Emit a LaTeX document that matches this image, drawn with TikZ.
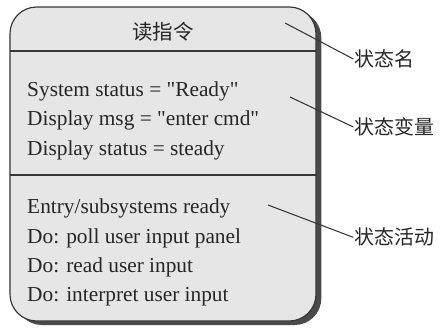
\documentclass[tikz,border=0pt]{standalone}
\usepackage{fontspec}
\setmainfont{Liberation Serif}
\newfontfamily\cjk{Noto Sans CJK SC}
\definecolor{boxfill}{HTML}{E6E6E6}
\definecolor{boxline}{HTML}{363636}
\definecolor{shadowgray}{HTML}{4A4A4A}

\begin{document}
\begin{tikzpicture}[
		txt/.style={anchor=base west, inner sep=0pt, font=\fontsize{18.2}{20}\selectfont, text=black!85},
		tag/.style={anchor=west, inner sep=1pt, font=\cjk\fontsize{17}{20}\selectfont, text=black!85},
		pointer/.style={draw=boxline, line width=0.9pt}]
	\useasboundingbox (0,0) rectangle (13.32,9.84);
	% state box with its shadow
	\fill [shadowgray, rounded corners=0.8cm] (0.46,0.09) rectangle (9.64,9.51);
	\filldraw [fill=boxfill, draw=boxline, line width=1pt, rounded corners=0.8cm] (0.3,0.21) rectangle (9.48,9.63);
	\draw [boxline, line width=1pt] (0.3,8.31) -- (9.48,8.31);
	\draw [boxline, line width=1pt] (0.3,4.59) -- (9.48,4.59);
	\node [font=\cjk\fontsize{17.5}{20}\selectfont, text=black!85] (name) at (4.89,8.9) {读指令};
	% state variables
	\node [txt] (var1) at (0.81,6.93) {System status = \textquotedbl Ready\textquotedbl};
	\node [txt] (var2) at (0.81,6.06) {Display msg = \textquotedbl enter cmd\textquotedbl};
	\node [txt] (var3) at (0.81,5.19) {Display status = steady};
	% state activities
	\node [txt] (act1) at (0.81,3.45) {Entry/subsystems ready};
	\node [txt] (act2) at (0.81,2.55) {Do: poll user input panel};
	\node [txt] (act3) at (0.81,1.68) {Do: read user input};
	\node [txt] (act4) at (0.81,0.81) {Do: interpret user input};
	% callouts
	\node [tag] (tagname) at (10.6,8.07) {状态名};
	\node [tag] (tagvar) at (10.6,6.03) {状态变量};
	\node [tag] (tagact) at (10.6,2.72) {状态活动};
	\coordinate (p1) at (8.55,9.15);
	\coordinate (p2) at (8.70,6.93);
	\coordinate (p3) at (8.04,3.69);
	\draw [pointer] (p1) -- (tagname.west);
	\draw [pointer] (p2) -- (tagvar.west);
	\draw [pointer] (p3) -- (tagact.west);
\end{tikzpicture}
\end{document}
